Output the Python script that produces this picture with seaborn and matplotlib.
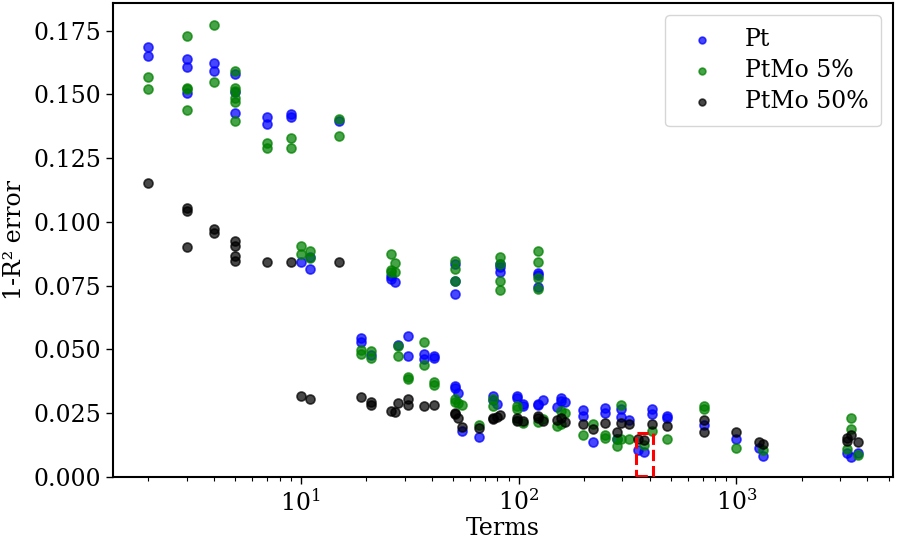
import numpy as np
import pandas as pd
import matplotlib
matplotlib.use("Agg")
import matplotlib.pyplot as plt
from matplotlib.patches import Rectangle
import seaborn as sns

# ---------------- data ----------------
pt_terms = [2, 2, 3, 3, 3, 4, 4, 5, 5, 5, 7, 7, 9, 9, 10, 11, 11, 15,
            19, 19, 21, 26, 26, 27, 28, 31, 31, 37, 37, 41, 41,
            51, 51, 51, 51, 51, 53, 55, 66, 76, 76, 80, 82, 82, 82,
            98, 98, 105, 105, 123, 123, 123, 123, 123, 130, 150, 157, 157, 164,
            197, 197, 219, 249, 249, 284, 297, 297, 322, 354, 377, 408, 408,
            482, 482, 710, 1000, 1264, 1328, 3233, 3365, 3600]
pt_err = [0.1684, 0.1652, 0.1640, 0.1609, 0.1504, 0.1621, 0.1590, 0.1581, 0.1510, 0.1428,
          0.1410, 0.1385, 0.1421, 0.1410, 0.0844, 0.0862, 0.0816, 0.1397,
          0.0544, 0.0531, 0.0477, 0.0789, 0.0776, 0.0763, 0.0518, 0.0551, 0.0474,
          0.0484, 0.0461, 0.0474, 0.0468,
          0.0835, 0.0770, 0.0717, 0.0358, 0.0350, 0.0330, 0.0181, 0.0157, 0.0319, 0.0300,
          0.0288, 0.0835, 0.0825, 0.0803,
          0.0319, 0.0310, 0.0288, 0.0280, 0.0799, 0.0790, 0.0744, 0.0288, 0.0282, 0.0301,
          0.0275, 0.0309, 0.0299, 0.0293,
          0.0262, 0.0240, 0.0139, 0.0271, 0.0252, 0.0147, 0.0265, 0.0235, 0.0225, 0.0107,
          0.0097, 0.0265, 0.0245,
          0.0241, 0.0232, 0.0202, 0.0147, 0.0114, 0.0084, 0.0094, 0.0078, 0.0095]

ptmo5_terms = [2, 2, 3, 3, 3, 3, 4, 4, 5, 5, 5, 5, 5, 5, 7, 7, 9, 9, 10, 10, 11, 11,
               15, 15, 19, 19, 21, 21, 26, 26, 26, 27, 27, 28, 28, 31, 31, 37, 37,
               41, 41, 51, 51, 51, 51, 51, 53, 55, 66, 76, 76, 82, 82, 82, 82,
               98, 98, 98, 105, 123, 123, 123, 123, 123, 130, 150, 157, 157, 164,
               197, 219, 249, 249, 284, 284, 297, 297, 322, 377, 408, 482,
               710, 710, 1000, 1328, 3233, 3365, 3365, 3600]
ptmo5_err = [0.1568, 0.1520, 0.1729, 0.1526, 0.1520, 0.1437, 0.1773, 0.1548,
             0.1592, 0.1524, 0.1513, 0.1484, 0.1471, 0.1395, 0.1310, 0.1288, 0.1330, 0.1288,
             0.0907, 0.0875, 0.0887, 0.0858, 0.1403, 0.1336, 0.0497, 0.0484, 0.0494, 0.0468,
             0.0876, 0.0813, 0.0805, 0.0840, 0.0803, 0.0514, 0.0474, 0.0392, 0.0383,
             0.0531, 0.0439, 0.0374, 0.0360, 0.0848, 0.0816, 0.0770, 0.0305, 0.0295,
             0.0291, 0.0284, 0.0203, 0.0305, 0.0279, 0.0864, 0.0835, 0.0770, 0.0733,
             0.0278, 0.0266, 0.0225, 0.0212, 0.0884, 0.0844, 0.0779, 0.0737, 0.0214, 0.0228,
             0.0201, 0.0260, 0.0206, 0.0252,
             0.0166, 0.0206, 0.0166, 0.0153, 0.0120, 0.0147, 0.0284, 0.0149, 0.0149, 0.0125,
             0.0179, 0.0147,
             0.0280, 0.0265, 0.0114, 0.0107, 0.0110, 0.0232, 0.0189, 0.0088]

ptmo50_terms = [2, 3, 3, 3, 4, 4, 5, 5, 5, 5, 7, 9, 10, 11, 15, 19, 21, 21, 26, 27, 28,
                31, 31, 37, 41, 51, 51, 53, 55, 66, 76, 76, 80, 82, 98, 98, 105,
                123, 123, 130, 150, 157, 164, 197, 219, 249, 284, 297, 322, 354, 377,
                408, 482, 710, 710, 1000, 1264, 1328, 3233, 3233, 3365, 3600]
ptmo50_err = [0.1153, 0.1054, 0.1044, 0.0902, 0.0973, 0.0956, 0.0927, 0.0905, 0.0868, 0.0848,
              0.0844, 0.0844, 0.0317, 0.0307, 0.0844, 0.0313, 0.0295, 0.0284, 0.0258, 0.0256,
              0.0291, 0.0304, 0.0284, 0.0278, 0.0282, 0.0252, 0.0245, 0.0233, 0.0197, 0.0191,
              0.0233, 0.0228, 0.0236, 0.0244, 0.0233, 0.0220, 0.0220,
              0.0240, 0.0230, 0.0220, 0.0223, 0.0233, 0.0214, 0.0208, 0.0187, 0.0212, 0.0175,
              0.0212, 0.0206, 0.0147, 0.0144, 0.0206, 0.0199, 0.0225, 0.0176, 0.0176, 0.0136,
              0.0130, 0.0153, 0.0140, 0.0165, 0.0136]

series_labels = ["Pt", "PtMo 5%", "PtMo 50%"]
series_colors = ["blue", "green", "black"]

# highlighted region (red dashed box)
box_terms = (347, 414)
box_err = (0.0005, 0.0174)

# ---------------- figure ----------------
sns.set_theme(style="ticks")
plt.rcParams["font.family"] = ["DejaVu Serif", "DejaVu Sans"]
plt.rcParams["axes.edgecolor"] = "black"
plt.rcParams["xtick.color"] = "black"
plt.rcParams["ytick.color"] = "black"
plt.rcParams["text.color"] = "black"
plt.rcParams["axes.labelcolor"] = "black"

FS = 17

df = pd.concat([
    pd.DataFrame({"Terms": pt_terms, "err": pt_err, "Model": series_labels[0]}),
    pd.DataFrame({"Terms": ptmo5_terms, "err": ptmo5_err, "Model": series_labels[1]}),
    pd.DataFrame({"Terms": ptmo50_terms, "err": ptmo50_err, "Model": series_labels[2]}),
], ignore_index=True)

fig = plt.figure(figsize=(8.98, 5.41), dpi=100)
ax = fig.add_axes([0.1258, 0.1183, 0.8686, 0.876])

for lab, col in zip(series_labels, series_colors):
    sub = df[df["Model"] == lab]
    sns.scatterplot(data=sub, x="Terms", y="err", color=col, edgecolor=col,
                    linewidth=1.2, s=42, alpha=0.72, label=lab, ax=ax)

ax.set_xscale("log")
ax.set_ylim(bottom=0)
ax.set_xlabel("Terms", fontsize=FS, labelpad=1)
ax.set_ylabel("1-R² error", fontsize=FS, labelpad=5)
ax.tick_params(axis="both", which="major", labelsize=FS, length=5, width=1)
ax.tick_params(axis="x", which="minor", length=3, width=0.8)
for sp in ax.spines.values():
    sp.set_linewidth(1.5)

ax.add_patch(Rectangle((box_terms[0], box_err[0]), box_terms[1] - box_terms[0],
                       box_err[1] - box_err[0], fill=False, edgecolor="red",
                       linestyle="--", linewidth=2.2, zorder=5))

leg = ax.legend(loc="upper right", fontsize=FS, frameon=True, borderpad=0.55,
                handletextpad=0.8, labelspacing=0.35, fancybox=True, markerscale=0.75)
leg.get_frame().set_edgecolor("0.8")

fig.savefig("out.png", dpi=100)
